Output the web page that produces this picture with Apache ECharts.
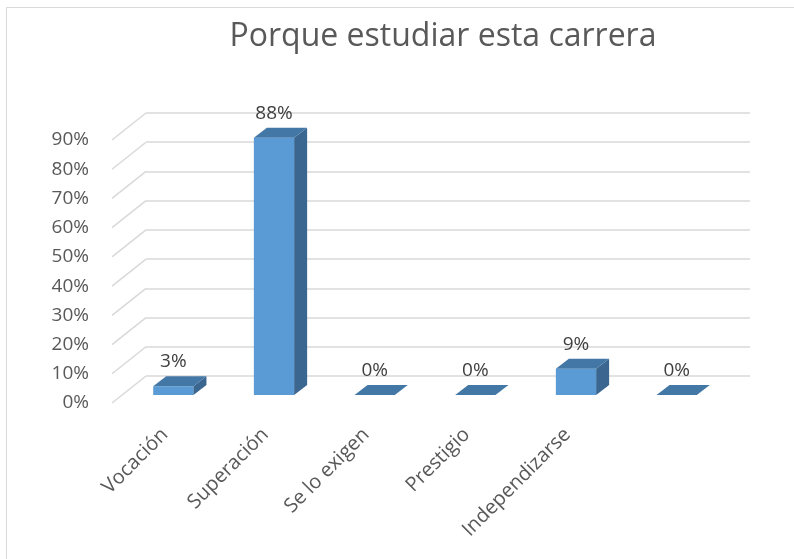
<!DOCTYPE html>
<html>
<head>
<meta charset="utf-8">
<title>Porque estudiar esta carrera</title>
<script src="https://cdn.jsdelivr.net/npm/echarts@6/dist/echarts.min.js"></script>
<style>
  html, body { margin: 0; padding: 0; background: #fff; }
  #main { width: 794px; height: 559px; }
</style>
</head>
<body>
<div id="main"></div>
<script>
// datos
const categories = ['Vocación', 'Superación', 'Se lo exigen', 'Prestigio', 'Independizarse', ''];
const values = [3, 88, 0, 0, 9, 0];
const yTicks = [0, 10, 20, 30, 40, 50, 60, 70, 80, 90];

// perspectiva: desplazamiento del plano de las barras respecto a la pared del fondo
const DX = 23, DY = 19;   // plano de barras
const WX = 34, WY = 27;   // borde frontal de las guias
const DEPTH_X = 13, DEPTH_Y = 10;

const FONT = '"Open Sans", "Liberation Sans", sans-serif';

const chart = echarts.init(document.getElementById('main'));

function renderBar(params, api) {
  const v = api.value(1);
  const base = api.coord([api.value(0), 0]);
  const top = api.coord([api.value(0), v]);
  const w = api.size([1, 0])[0] * 0.4;
  const x0 = base[0] - DX - w / 2, x1 = x0 + w;
  const yb = base[1] + DY, yt = top[1] + DY;
  const children = [];
  if (yb - yt > 0.5) {
    children.push({ type: 'polygon', shape: { points: [[x0, yt], [x1, yt], [x1, yb], [x0, yb]] },
      style: { fill: '#5b9bd5' } });
    children.push({ type: 'polygon', shape: { points: [[x1, yt], [x1 + DEPTH_X, yt - DEPTH_Y], [x1 + DEPTH_X, yb - DEPTH_Y], [x1, yb]] },
      style: { fill: '#3b6690' } });
  }
  children.push({ type: 'polygon', shape: { points: [[x0, yt], [x0 + DEPTH_X, yt - DEPTH_Y], [x1 + DEPTH_X, yt - DEPTH_Y], [x1, yt]] },
    style: { fill: '#4377a6' } });
  children.push({ type: 'text', style: { x: (x0 + x1) / 2, y: yt - 15, text: v + '%', fill: '#404040',
    font: '19px ' + FONT, textAlign: 'center', textVerticalAlign: 'bottom' } });
  return { type: 'group', children: children };
}

function renderWall(params, api) {
  const y = api.coord([0, api.value(0)])[1];
  const x = params.coordSys.x;
  return { type: 'line', shape: { x1: x, y1: y, x2: x - WX, y2: y + WY },
    style: { stroke: '#d9d9d9', lineWidth: 1.5 } };
}

const option = {
  animation: false,
  backgroundColor: '#fff',
  graphic: [{ type: 'rect', shape: { x: 6.5, y: 7.5, width: 820, height: 600 },
    style: { fill: 'none', stroke: '#d9d9d9', lineWidth: 1 }, silent: true }],
  title: {
    text: 'Porque estudiar esta carrera',
    left: 438, top: 16, textAlign: 'center',
    textStyle: { fontFamily: FONT, fontSize: 32, fontWeight: 'normal', color: '#595959' }
  },
  grid: [
    { left: 146, right: 44, top: 113, bottom: 183 },
    { left: 146 - WX, right: 44 + WX, top: 113 + WY, bottom: 183 - WY },
    { left: 146 - DX, right: 44 + DX, top: 113 + DY, bottom: 183 - DY }
  ],
  xAxis: [
    { gridIndex: 0, type: 'category', data: categories, show: false },
    { gridIndex: 1, type: 'category', data: categories, show: false },
    { gridIndex: 2, type: 'category', data: categories,
      axisLine: { show: false }, axisTick: { show: false },
      axisLabel: { interval: 0, rotate: 45, margin: 28, padding: [0, 12, 0, 0],
        color: '#595959', fontSize: 20, fontFamily: FONT } }
  ],
  yAxis: [
    { gridIndex: 0, type: 'value', min: 0, max: 90, interval: 10,
      axisLabel: { show: false }, axisLine: { show: false }, axisTick: { show: false },
      splitLine: { lineStyle: { color: '#d9d9d9', width: 1.5 } } },
    { gridIndex: 1, type: 'value', min: 0, max: 90, interval: 10,
      axisLine: { show: false }, axisTick: { show: false }, splitLine: { show: false },
      axisLabel: { margin: 23, color: '#595959', fontSize: 19, fontFamily: FONT, formatter: '{value}%' } },
    { gridIndex: 2, type: 'value', min: 0, max: 90, interval: 10, show: false }
  ],
  series: [
    { type: 'custom', xAxisIndex: 0, yAxisIndex: 0, renderItem: renderWall,
      data: yTicks.map(t => [t]), silent: true },
    { type: 'custom', xAxisIndex: 0, yAxisIndex: 0, renderItem: renderBar,
      data: values.map((v, i) => [i, v]), z: 5 }
  ]
};

chart.setOption(option);
</script>
</body>
</html>
